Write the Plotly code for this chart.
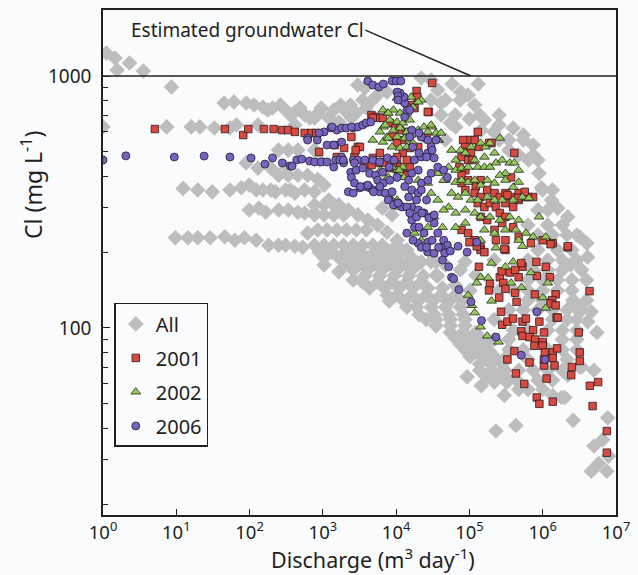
import plotly.graph_objects as go

# ---------------- data ----------------
# All observations (grey diamonds): discharge (m3/day) and Cl (mg/L)
all_q = [1.11, 1.46, 1.56, 2.3, 3.55, 8.6, 1.0, 7.4, 16, 21, 33, 54, 45, 61, 90, 152, 206, 310, 415, 565,
         12.4, 54, 99, 152, 225, 310, 415, 565, 99, 134, 250, 455, 565, 9.7, 19.6, 46, 85, 123, 182, 310, 530, 620,
         770, 950, 1410, 2100, 2850, 3500, 3000, 3750, 5600, 7500, 2.2e4, 3.0e4, 5.8e4, 7.6e4, 1.32e5, 4.1e4,
         5.5e4, 6.5e4, 1.45e5, 2.15e5, 3.95e5, 1.0e5, 6.4e5, 8.9e5, 9.6e5, 1.32e6, 1.6e6, 2.2e6, 3.2e6, 4.0e6,
         4.1e6, 2.4e6, 2.7e6, 3.2e6, 4.1e6, 5.5e6, 4.6e6, 2.2e6, 3.2e6, 2.0e6, 2.6e6, 7.7e6, 5.0e6, 6.6e6, 4.6e6,
         5.8e6, 7.9e6, 7.5e6, 2.6e6, 5.0e6, 3.4e6, 1.37e6, 1.8e6, 9.3e4, 1.45e5, 3.0e5, 2.3e5, 4.3e5,
         248, 337, 456, 248, 337, 456, 620, 130, 195, 326, 90,
         770, 1040, 1410, 770, 1040, 1410, 1920,
         850, 1140, 1550, 2100, 2850, 3900,
         770, 1040, 1410, 1920, 2600, 3500, 4800, 6500,
         1040, 1650, 2600, 4100, 6500, 1.03e4,
         2600, 4100, 6500, 1.03e4, 1.63e4,
         3500, 5600, 8800, 1.4e4, 2.2e4,
         7570, 1.03e4, 1.63e4, 2.57e4, 4.1e4, 6.4e4,
         1.4e4, 1.9e4, 3.0e4, 4.7e4, 7.5e4,
         2.57e4, 3.5e4, 5.5e4, 8.7e4,
         5.5e4, 8.2e4, 1.22e5,
         7.5e4, 1.08e5, 1.6e5,
         1.02e5, 1.46e5, 2.18e5,
         1.38e5, 2.05e5, 3.05e5,
         2.18e5, 3.24e5, 4.7e5,
         2.2e4, 3.0e4, 3.5e4,
         6.3e5, 1.17e6, 1.85e6, 2.92e6,
         6.3e5, 1.0e6, 1.59e6, 2.5e6, 3.96e6,
         6.3e5, 1.0e6, 3.96e6,
         2.18e5, 1.36e6, 2.15e6, 2.92e6,
         2.18e5, 3.45e5, 1.85e6, 2.92e6,
         1.87e5, 2.96e5, 6.3e5, 2.15e6,
         3.45e5, 8.6e5, 1.36e6,
         6.3e5, 1.17e6, 1.85e6,
         8.6e5, 1.17e6,
         3.0e4, 4.7e4, 7.5e4,
         4.1e4, 6.4e4, 1.38e5, 2.54e5,
         4.7e4, 2.54e5, 3.45e5, 5.45e5,
         4.7e5, 7.4e5,
         1750, 2370, 3900, 4800,
         8800, 1.4e4, 1040, 1650, 2600,
         890, 1330, 2030, 3200, 5100, 8050,
         2030, 3200, 5100, 8050, 1.27e4, 2.0e4,
         3750, 5950, 9400, 1.48e4, 2.35e4, 3.7e4,
         4350, 6900, 1.1e4, 1.7e4, 2.7e4, 4.3e4,
         8050, 1.27e4, 2.0e4, 3.2e4, 5.0e4, 7.9e4,
         2.05e4, 3.3e4, 5.2e4, 8.2e4,
         3.5e4, 5.5e4, 8.7e4,
         6.4e4, 9.6e4, 1.42e5,
         9.0e4, 1.3e5, 1.87e5,
         1.38e5, 1.95e5, 2.8e5,
         1.7e5, 2.54e5,
         2.54e5, 4.0e5, 6.3e5, 1.0e6, 1.59e6, 2.5e6,
         3.45e5, 5.45e5, 8.6e5, 1.36e6, 2.15e6, 3.4e6,
         4.0e5, 6.3e5, 1.17e6, 1.85e6, 2.92e6,
         3.45e5, 5.45e5, 1.17e6, 1.85e6, 2.92e6,
         4.7e5, 7.4e5, 1.17e6, 1.85e6,
         4.7e5, 6.3e5, 1.0e6,
         1.0e6, 1.36e6,
         8.6e5, 1.36e6, 2.15e6, 2.92e6,
         8.6e5, 1.59e6, 2.5e6,
         7.4e5, 1.17e6, 1.85e6, 3.4e6,
         3.7e4, 9.6e4, 1.18e5, 1.6e5, 2.54e5, 5.45e5, 7.4e5, 8.6e5, 3.45e5,
         115, 177, 264, 360, 488, 660, 890, 1210, 1650, 2450,
         66, 130, 415,
         19.6, 31, 77, 123, 195, 360, 770,
         166, 337, 770,
         14.4, 29, 63, 248, 415,
         850, 1040, 770, 890, 1210, 1650, 2230, 3000, 4100, 5600, 7500, 1.03e4, 1.2e4, 1.63e4, 8800, 6500,
         4.7e4, 6.4e4, 3.5e4, 7.5e4, 1.02e5, 5.5e4,
         8.7e4, 1.22e5, 2.18e5]
all_cl = [1234, 1179, 1056, 1126, 1047, 904, 628, 628, 628, 628, 622, 622, 781, 789, 781, 753, 746, 733, 720, 700,
          358, 353, 369, 353, 347, 353, 343, 353, 294, 299, 294, 288, 286, 228, 228, 230, 228, 223, 213, 213, 209, 238,
          682, 746, 733, 720, 713, 803, 921, 896, 841, 864, 982, 964, 929, 864, 929, 781,
          651, 628, 610, 600, 622, 676, 464, 411, 360, 322, 299, 276, 230, 217,
          191, 178, 127, 116, 106, 96, 116, 65, 70, 53, 43, 44, 34, 36, 27,
          29, 31, 27, 129, 68, 70, 54, 53, 64, 59, 54, 39, 41,
          508, 508, 508, 404, 404, 404, 404, 431, 431, 431, 452,
          308, 308, 308, 281, 281, 281, 281,
          245, 245, 245, 245, 245, 245,
          213, 213, 213, 213, 213, 213, 213, 213,
          190, 190, 190, 190, 190, 190,
          170, 170, 170, 170, 170,
          152, 152, 152, 152, 152,
          135, 135, 135, 135, 135, 135,
          121, 121, 121, 121, 121,
          108, 108, 108, 108,
          96, 96, 96,
          86, 86, 86,
          77, 77, 77,
          68, 68, 68,
          61, 61, 61,
          183, 183, 183,
          186, 186, 186, 186,
          155, 155, 155, 155, 155,
          129, 129, 129,
          108, 108, 108, 108,
          90, 90, 90, 90,
          75, 75, 75, 75,
          62, 62, 62,
          256, 256, 256,
          294, 294,
          803, 803, 803,
          700, 700, 700, 700,
          557, 557, 557, 557,
          486, 486,
          767, 767, 746, 803,
          204, 204, 178, 167, 155,
          200, 200, 200, 200, 200, 200,
          180, 180, 180, 180, 180, 180,
          161, 161, 161, 161, 161, 161,
          144, 144, 144, 144, 144, 144,
          128, 128, 128, 128, 128, 128,
          113, 113, 113, 113,
          102, 102, 102,
          91, 91, 91,
          81, 81, 81,
          72, 72, 72,
          64, 64,
          141, 141, 141, 141, 141, 141,
          118, 118, 118, 118, 118, 118,
          98, 98, 98, 98, 98,
          82, 82, 82, 82, 82,
          68, 68, 68, 68,
          57, 57, 57,
          353, 353,
          234, 234, 234, 234,
          204, 204, 204,
          170, 170, 170, 170,
          880, 841, 767, 669, 639, 583, 532, 464, 508,
          767, 733, 767, 700, 746, 682, 720, 682, 657, 682,
          639, 639, 639,
          353, 347, 360, 353, 353, 353, 347,
          288, 294, 286,
          228, 228, 223, 213, 211,
          389, 369, 508, 464, 322, 308, 294, 281, 268, 256, 240, 223, 204, 190, 281, 299,
          178, 148, 162, 170, 141, 129,
          183, 162, 186]

# 2001 (red squares)
q_2001 = [5.1, 46, 82, 96, 157, 213, 280, 335, 415, 565, 700, 810, 1450, 2450, 3000, 890, 2700, 4800, 6600, 8200,
          1.03e4, 1.23e4, 1.06e4, 1.53e4, 1.4e4, 4600, 5200, 6000, 8200, 9700, 1.13e4, 1.4e4, 8800, 1.2e4, 1.03e4,
          1.53e4, 1.23e4, 1.03e4, 1.4e4, 8200, 6700, 5600, 4600, 3650, 1.13e4, 3.1e4, 1.9e4, 1.95e4, 1.6e4, 2.8e4,
          1.78e4, 4800, 6600, 3200, 2800, 1950, 1550, 6000, 2.0e4, 2.6e4, 2.7e4,
          1.3e5, 1.0e5, 8.2e4, 8.8e4, 1.35e5, 8.8e4, 1.05e5, 7.8e4, 9.6e4, 7.3e4, 8.8e4, 7.8e4, 9.6e4, 1.22e5,
          1.42e5, 1.85e5, 1.18e5, 4.1e5, 7.8e4, 8.8e4, 1.18e5, 1.42e5, 1.75e5, 2.2e5, 2.6e5, 3.1e5, 3.95e5, 4.7e5,
          5.8e5, 1.3e5, 1.6e5, 1.9e5, 2.3e5, 3.1e5, 3.95e5, 4.7e5, 7.4e5, 1.42e5, 1.75e5, 2.6e5, 3.1e5, 2.2e5,
          2.8e5, 3.95e5, 7.8e4, 9.6e4, 1.18e5, 1.42e5, 2.3e5, 3.1e5, 4.7e5, 1.0e6, 1.37e6, 2.2e6, 3.1e5, 1.42e5,
          1.1e6, 8.2e5, 5.3e5, 4.7e5, 3.55e5, 2.6e5, 1.9e5, 1.35e5, 1.0e5, 1.26e5, 1.6e5, 3.0e5, 6.9e5, 1.28e6,
          2.2e6, 2.75e5, 5.1e5, 8.3e5, 4.2e5, 1.25e6, 2.9e5, 3.1e5, 1.85e5, 4.2e5, 7.8e5, 1.5e6, 1.35e6, 1.28e6,
          1.5e6, 4.4e5, 2.55e5, 2.7e5, 1.55e6, 4.35e6, 2.8e5, 3.3e5, 3.95e5, 5.3e5, 5.9e5, 7.4e5, 9.0e5, 1.04e6,
          5.1e5, 5.3e5, 6.6e5, 7.9e5, 1.0e6, 7.7e5, 1.0e6, 1.07e6, 1.37e6, 1.57e6, 3.2e6, 3.2e6, 1.37e6, 1.45e6,
          2.5e6, 2.45e6, 4.1e5, 3.3e5, 4.3e5, 6.6e5, 1.04e6, 1.13e6, 5.6e5, 8.3e5, 9.0e5, 1.37e6, 3.1e6, 4.4e6,
          5.7e6, 4.8e6, 7.5e6, 7.5e6, 1.6e6, 1.04e6, 3.7e5, 6.3e5, 5.7e5, 4.6e5, 3.3e5, 2.0e5, 1.1e5]
cl_2001 = [616, 616, 583, 616, 616, 616, 610, 610, 600, 594, 594, 594, 532, 573, 523, 500, 477, 473, 456, 431,
           443, 423, 411, 435, 404, 700, 688, 682, 651, 622, 610, 600, 573, 557, 542,
           518, 495, 477, 464, 464, 452, 452, 443, 443, 435, 938, 872, 825, 767, 720,
           746, 682, 682, 523, 508, 518, 477, 495, 523, 567, 720,
           600, 557, 557, 523, 523, 500, 495, 477, 464, 435, 423, 404, 386, 364,
           386, 542, 557, 495, 376, 353, 343, 331, 353, 343, 331, 343, 331, 343,
           331, 313, 302, 313, 302, 313, 302, 322, 331, 276, 268, 286, 276, 245,
           261, 251, 245, 238, 223, 209, 223, 223, 230, 223, 217, 209, 204, 204,
           175, 183, 175, 159, 166, 159, 150, 175, 219, 211, 200, 206, 217, 215,
           211, 168, 181, 161, 170, 159, 151, 143, 141, 138, 136, 136, 129, 125,
           123, 127, 132, 116, 110, 140, 103, 106, 109, 106, 109, 98, 106, 96,
           97, 93, 92, 90, 88, 85, 85, 80, 80, 83, 80, 74, 76, 71,
           70, 65, 81, 75, 66, 73, 71, 63, 60, 53, 50, 51, 96, 59,
           61, 49, 39, 32, 110, 75, 396, 331, 347, 328, 337, 542, 464]

# 2002 (green triangles)
q_2002 = [1.03e4, 1.31e4, 1.6e4, 2.2e4, 1.7e4, 6600, 7600, 9200, 1.13e4, 1.4e4, 8200, 1.03e4, 1.23e4, 1.53e4,
          6700, 9200, 1.13e4, 1.4e4, 7500, 1.03e4, 1.31e4, 1.53e4, 8800, 1.13e4, 1.4e4, 1.7e4, 3.1e4, 3.5e4, 3.8e4,
          6100, 8200, 1.03e4, 1.23e4, 1.13e4, 7500, 1.03e4, 1.13e4,
          5.7e4, 7.6e4, 8.8e4, 1.05e5, 1.42e5, 1.65e5, 1.9e5, 2.6e5, 2.2e5, 1.6e5, 1.18e5, 6.5e4,
          5.2e4, 6.5e4, 7.8e4, 9.6e4, 1.3e5, 1.6e5, 1.9e5, 2.3e5, 2.8e5, 3.55e5, 4.1e5, 4.7e5, 3.1e5,
          4.7e4, 6.5e4, 7.8e4, 9.6e4, 1.18e5, 1.42e5, 1.75e5, 2.2e5, 2.6e5, 3.1e5, 3.95e5, 4.7e5,
          5.7e4, 7.0e4, 8.8e4, 1.05e5, 1.3e5, 1.75e5, 2.2e5, 2.8e5, 3.95e5, 5.3e5, 6.5e5,
          5.2e4, 6.5e4, 8.8e4, 1.18e5, 1.42e5, 1.9e5, 2.6e5, 3.55e5, 4.7e5, 8.9e5,
          6.5e4, 8.8e4, 1.6e5, 2.2e5, 3.1e5, 4.3e5, 5.9e5, 7.4e5, 1.1e6, 1.42e5, 2.3e5, 4.7e5,
          2.0e5, 3.1e5, 1.42e5, 1.8e5, 5.3e5, 3.95e5, 6.9e5, 1.17e6, 1.0e6, 1.26e5, 3.7e5, 5.15e5,
          9.6e4, 1.08e5, 2.0e5, 1.18e5, 1.42e5, 1.75e5, 2.5e5, 1.1e6,
          1.31e4, 2.0e4, 7800, 7100, 6000, 4800, 6600, 7800, 1.6e4, 2.0e4, 2.4e4, 3.0e4, 3.7e4, 4.1e4, 2.7e4,
          8800, 1.1e4, 7800, 1.28e4, 1.1e4, 8800, 2.0e4, 2.7e4, 3.7e4, 4.45e4, 3.0e4, 3.7e4, 4.45e4, 3.3e4,
          1.78e4, 2.2e4, 2.7e4, 4.3e4]
cl_2002 = [818, 825, 825, 803, 753, 733, 713, 733, 713, 713, 669, 657, 651, 669,
           628, 610, 622, 600, 573, 573, 567, 557, 523, 518, 523, 542, 628, 594, 557,
           423, 431, 423, 435, 411, 393, 322, 313,
           508, 508, 495, 523, 542, 523, 542, 567, 495, 477, 464, 464,
           435, 423, 431, 435, 435, 435, 435, 452, 464, 452, 452, 423, 411,
           386, 379, 386, 379, 386, 369, 386, 376, 404, 386, 362, 379,
           343, 331, 343, 322, 322, 331, 322, 322, 322, 331, 328,
           302, 286, 294, 286, 276, 276, 268, 276, 268, 276,
           251, 261, 245, 238, 245, 245, 238, 230, 230, 223, 208, 223,
           181, 175, 159, 158, 211, 183, 166, 151, 132, 151, 151, 145,
           135, 123, 128, 115, 101, 93, 88, 120,
           789, 789, 713, 639, 600, 557, 547, 567, 583, 610, 628, 639, 557, 594, 600,
           435, 423, 396, 396, 302, 322, 386, 376, 411, 386, 343, 322, 294, 276,
           238, 223, 251, 251]

# 2006 (purple circles)
q_2006 = [1.0, 2.05, 9.4, 24, 54, 105, 162, 206, 280, 360, 440, 515, 660, 620, 620, 840, 1140, 1410, 1800,
          1040, 1290, 1550, 1800, 2100, 2600, 3000, 3500, 3900, 4500, 890, 1330, 2450, 380, 770, 950, 1140, 1500,
          1920, 2600, 3000, 3750, 4800, 5950, 7600, 9400, 1410, 2400, 2850, 3500, 4350, 5250, 6500, 8050,
          2230, 2600, 3200, 3750, 4350, 4800, 5950, 7100, 8800, 8050, 1.03e4, 1.2e4, 1.63e4, 2.0e4, 2.4e4, 3.0e4,
          3.3e4, 3.7e4, 4.45e4, 5.0e4, 2.4e4, 2.7e4, 2.0e4, 2.2e4, 2.7e4, 3.3e4, 4.1e4, 1.63e4, 1.78e4, 1.48e4,
          1.63e4, 2.0e4, 2.2e4, 2.7e4, 3.0e4, 3.7e4, 4.45e4, 5.0e4, 2.0e4, 1.63e4, 1.48e4, 1.31e4, 1.78e4, 2.2e4,
          2.7e4, 3.3e4, 3.0e4, 2.7e4, 2.2e4, 1.63e4, 1.31e4, 1.4e4, 1.31e4, 1.28e4, 1.13e4, 4100, 4800, 5800,
          6700, 8800, 1.0e4, 1.16e4, 1.03e4, 1.06e4, 1.53e4, 2.05e4, 1.68e4, 2.05e4, 2.6e4, 3.1e4, 3.5e4, 1.06e4,
          1.53e4, 1.9e4, 2.2e4, 2.6e4, 2.05e4, 3.1e4, 3.8e4, 4.6e4, 5.2e4, 5.7e4, 1.4e4, 1.7e4, 2.6e4, 5.5e4,
          7.0e4, 9.3e4, 1.26e5, 4.3e4, 6.1e4, 7.2e4, 1.05e5, 1.46e5, 2.3e5, 5.1e5, 8.3e5, 1.07e6, 1800, 1700,
          1900, 2700, 2450, 2700, 3250, 4100, 5600, 6700, 8200, 1.03e4, 4900, 6000, 7800, 9200, 1.06e4, 1.4e4,
          1.53e4, 1.9e4, 2.25e4, 2.8e4, 3.3e4]
cl_2006 = [464, 482, 477, 481, 477, 473, 447, 473, 452, 439, 464, 468, 460, 567, 557, 557, 532, 532, 547,
           600, 622, 610, 622, 622, 622, 628, 639, 651, 657, 594, 628, 628, 439, 456, 456, 456, 464,
           452, 464, 464, 464, 464, 456, 473, 464, 435, 415, 423, 431, 411, 404, 415, 435,
           347, 343, 360, 364, 360, 353, 347, 343, 347, 322, 313, 302, 302, 294, 286, 276,
           261, 238, 223, 213, 238, 219, 217, 209, 200, 198, 209, 268, 251, 331,
           353, 343, 376, 386, 411, 435, 423, 396, 423, 411, 386, 364, 464, 477,
           495, 473, 523, 557, 573, 610, 688, 733, 781, 825, 856, 955, 921, 904,
           929, 955, 955, 955, 864, 833, 573, 594, 523, 495, 477, 508, 557, 803,
           733, 322, 353, 322, 251, 223, 209, 198, 175, 159, 238, 223, 209, 202,
           211, 200, 219, 186, 157, 142, 127, 107, 92, 78, 116, 75, 477, 464,
           464, 452, 396, 376, 364, 369, 386, 376, 386, 396, 347, 364, 322, 308, 313, 302,
           286, 276, 286, 273, 281]

x_tick_values = [1, 10, 100, 1000, 1e4, 1e5, 1e6, 1e7]
x_tick_labels = ["10<sup>0</sup>", "10<sup>1</sup>", "10<sup>2</sup>", "10<sup>3</sup>",
                 "10<sup>4</sup>", "10<sup>5</sup>", "10<sup>6</sup>", "10<sup>7</sup>"]
y_tick_values = [100, 1000]
y_tick_labels = ["100", "1000"]
y_minor_values = [20, 30, 40, 50, 60, 70, 80, 90, 200, 300, 400, 500, 600, 700, 800, 900]
groundwater_cl = 1000

# ---------------- figure ----------------
FONT = "Noto Sans"
INK = "#231f20"
BG = "#fafbfd"

fig = go.Figure()
fig.add_trace(go.Scatter(x=all_q, y=all_cl, mode="markers", name="All", legendgroup="a",
                         marker=dict(symbol="diamond", size=12, color="#bdbdbf", line=dict(width=0))))
fig.add_trace(go.Scatter(x=q_2001, y=cl_2001, mode="markers", name="2001", legendgroup="b",
                         marker=dict(symbol="square", size=7.5, color="#d9493f",
                                     line=dict(width=0.8, color="#2a1a1a"))))
fig.add_trace(go.Scatter(x=q_2002, y=cl_2002, mode="markers", name="2002", legendgroup="c",
                         marker=dict(symbol="triangle-up", size=8.5, color="#95c75c",
                                     line=dict(width=0.8, color="#1f2a1a"))))
fig.add_trace(go.Scatter(x=q_2006, y=cl_2006, mode="markers", name="2006", legendgroup="d",
                         marker=dict(symbol="circle", size=8, color="#7763bd",
                                     line=dict(width=0.8, color="#221d33"))))

# groundwater Cl line and its label
fig.add_shape(type="line", xref="paper", x0=0, x1=1, yref="y", y0=groundwater_cl, y1=groundwater_cl,
              line=dict(color=INK, width=1.6))
fig.add_shape(type="line", xref="x", yref="y", x0=3800, y0=1522, x1=1.05e5, y1=groundwater_cl,
              line=dict(color=INK, width=1.4))
# annotation positions on log axes are given in log10 units
fig.add_annotation(x=0.35, y=3.1825, xref="x", yref="y", xanchor="left", yanchor="middle",
                   text="Estimated groundwater Cl", showarrow=False,
                   font=dict(family=FONT, size=19, color=INK))

# axis titles as annotations
fig.add_annotation(x=-0.137, y=0.653, xref="paper", yref="paper", textangle=-90,
                   xanchor="center", yanchor="middle",
                   text="Cl (mg L<sup>-1</sup>)", showarrow=False,
                   font=dict(family=FONT, size=23, color=INK))
fig.add_annotation(x=0.526, y=-0.086, xref="paper", yref="paper", xanchor="center", yanchor="middle",
                   text="Discharge (m<sup>3</sup> day<sup>-1</sup>)", showarrow=False,
                   font=dict(family=FONT, size=21.5, color=INK))

fig.update_xaxes(type="log", range=[0, 7], tickvals=x_tick_values, ticktext=x_tick_labels,
                 ticks="inside", ticklen=6, tickwidth=1.3, tickcolor=INK,
                 showline=True, mirror=True, linecolor=INK, linewidth=1.6,
                 showgrid=False, zeroline=False, ticklabelstandoff=0, ticklabeloverflow="allow",
                 tickfont=dict(family=FONT, size=18.5, color=INK))
fig.update_yaxes(type="log", range=[1.2579, 3.2619], tickvals=y_tick_values, ticktext=y_tick_labels,
                 ticks="inside", ticklen=7, tickwidth=1.3, tickcolor=INK,
                 minor=dict(tickvals=y_minor_values, ticks="inside", ticklen=5, tickwidth=1.3, tickcolor=INK),
                 showline=True, mirror=True, linecolor=INK, linewidth=1.6,
                 showgrid=False, zeroline=False, ticklabelstandoff=6,
                 tickfont=dict(family=FONT, size=19, color=INK))

fig.update_layout(
    width=638, height=575,
    margin=dict(l=103, r=8, t=10, b=60),
    paper_bgcolor=BG, plot_bgcolor=BG,
    font=dict(family=FONT, color=INK),
    legend=dict(x=0.022, y=0.42, xanchor="left", yanchor="top",
                bordercolor=INK, borderwidth=1.5, bgcolor=BG,
                font=dict(family=FONT, size=20, color=INK),
                tracegroupgap=5, itemsizing="trace"),
)

fig.write_html("out.html", config={"displayModeBar": False},
               post_script="document.body.style.margin='0px';")
